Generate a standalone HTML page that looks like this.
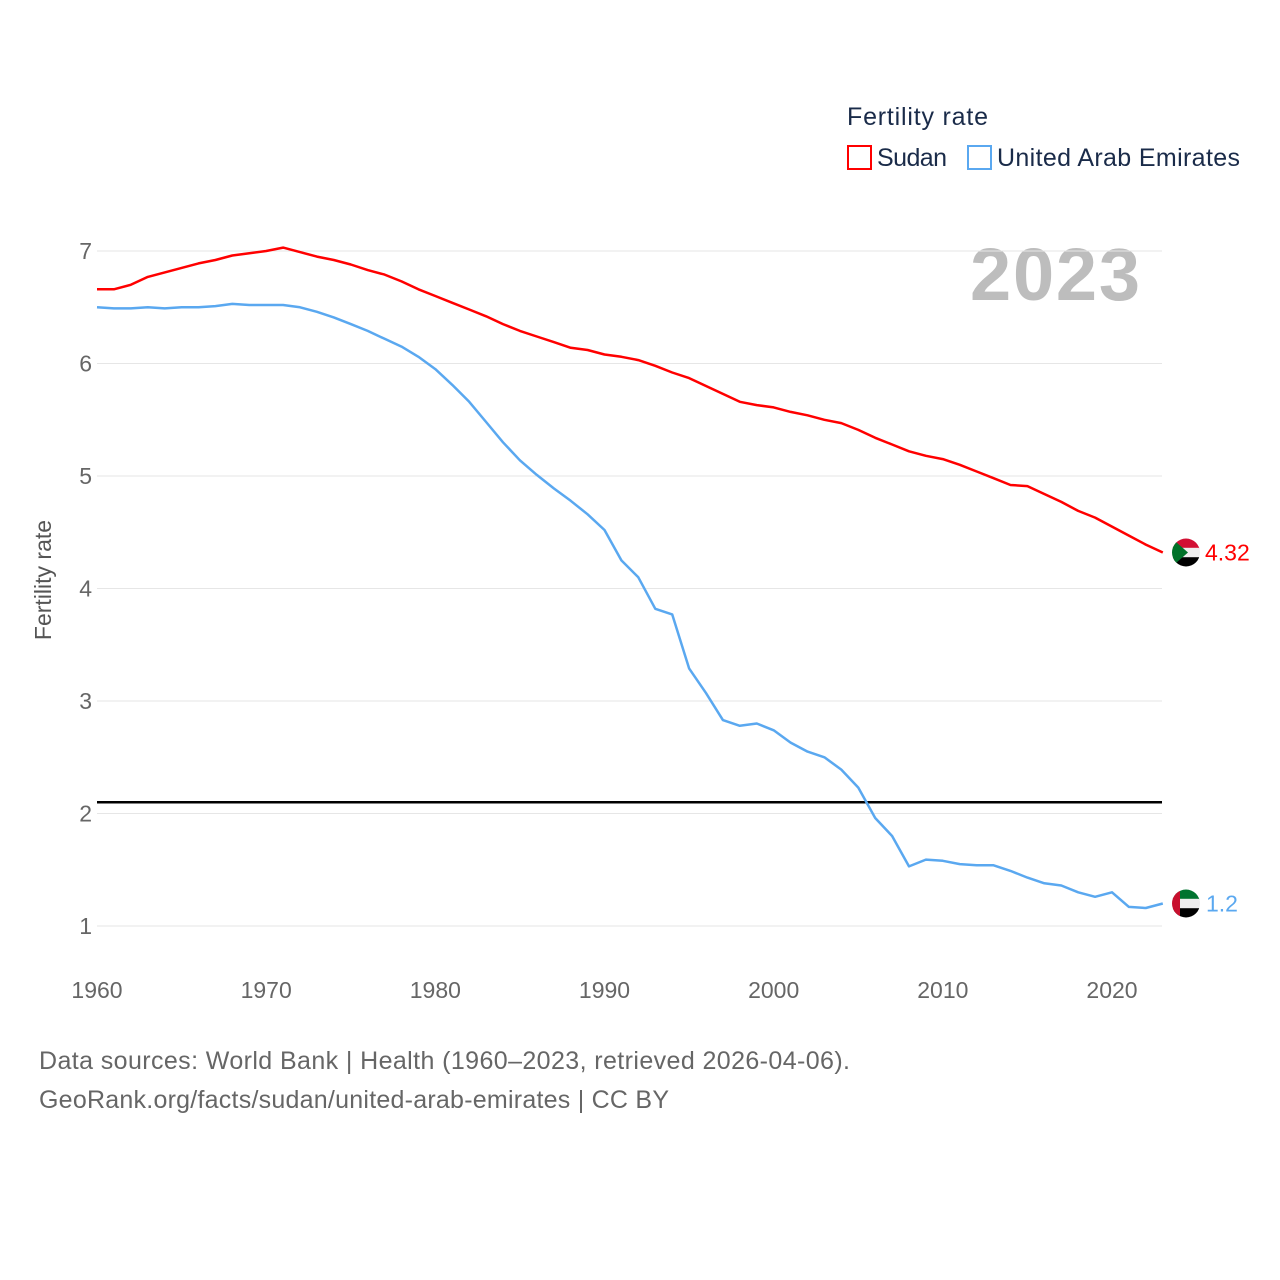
<!DOCTYPE html>
<html><head><meta charset="utf-8">
<style>
html,body{margin:0;padding:0;background:#fff;}
body{width:1280px;height:1280px;position:relative;font-family:"Liberation Sans",sans-serif;}
svg{position:absolute;left:0;top:0;}
</style></head>
<body>
<svg id="chart" width="1280" height="1280">
  <text x="847" y="125" font-size="25" fill="#1a2b49" textLength="141">Fertility rate</text>
  <g>
    <rect x="848" y="146" width="23" height="23" fill="none" stroke="#f00" stroke-width="2"/>
    <text x="877" y="166" font-size="25" fill="#1a2b49" textLength="70">Sudan</text>
  </g>
  <g>
    <rect x="968" y="146" width="23" height="23" fill="none" stroke="#5aa8f0" stroke-width="2"/>
    <text x="997" y="166" font-size="25" fill="#1a2b49" textLength="243">United Arab Emirates</text>
  </g>
  <text x="1140" y="300" font-size="74" font-weight="bold" fill="#bdbdbd" text-anchor="end" textLength="170">2023</text>
  <text transform="translate(51,580) rotate(-90)" font-size="23" fill="#555" text-anchor="middle">Fertility rate</text>
  <g id="grid"></g>
  <g id="xt"></g>
  <g id="lines"></g>
  <text x="39" y="1069" font-size="25" fill="#666" textLength="811">Data sources: World Bank | Health (1960–2023, retrieved 2026-04-06).</text>
  <text x="39" y="1108" font-size="25" fill="#666" textLength="630">GeoRank.org/facts/sudan/united-arab-emirates | CC BY</text>
</svg>
<script>
const years = [];
for (let y = 1960; y <= 2023; y++) years.push(y);
const sudan = [6.66,6.66,6.70,6.77,6.81,6.85,6.89,6.92,6.96,6.98,7.00,7.03,6.99,6.95,6.92,6.88,6.83,6.79,6.73,6.66,6.60,6.54,6.48,6.42,6.35,6.29,6.24,6.19,6.14,6.12,6.08,6.06,6.03,5.98,5.92,5.87,5.80,5.73,5.66,5.63,5.61,5.57,5.54,5.50,5.47,5.41,5.34,5.28,5.22,5.18,5.15,5.10,5.04,4.98,4.92,4.91,4.84,4.77,4.69,4.63,4.55,4.47,4.39,4.32];
const uae = [6.50,6.49,6.49,6.50,6.49,6.50,6.50,6.51,6.53,6.52,6.52,6.52,6.50,6.46,6.41,6.35,6.29,6.22,6.15,6.06,5.95,5.81,5.66,5.48,5.30,5.14,5.01,4.89,4.78,4.66,4.52,4.25,4.10,3.82,3.77,3.29,3.07,2.83,2.78,2.80,2.74,2.63,2.55,2.50,2.39,2.23,1.96,1.80,1.53,1.59,1.58,1.55,1.54,1.54,1.49,1.43,1.38,1.36,1.30,1.26,1.30,1.17,1.16,1.20];
const yTicks = [1,2,3,4,5,6,7];
const xTicks = [1960,1970,1980,1990,2000,2010,2020];
const replacement = 2.1;
const NS = "http://www.w3.org/2000/svg";
const X = v => 97 + (v - 1960) * (1015 / 60);
const Y = v => 926 - (v - 1) * 112.5;
function mk(tag, attrs, parent){const e=document.createElementNS(NS,tag);for(const k in attrs)e.setAttribute(k,attrs[k]);parent.appendChild(e);return e;}
const grid=document.getElementById('grid'), xt=document.getElementById('xt'), lines=document.getElementById('lines');
yTicks.forEach(t=>{
  const l=mk('line',{x1:97,x2:1162,y1:Y(t),y2:Y(t),stroke:'#e6e6e6','stroke-width':1},grid);
  
  
  const tx=mk('text',{x:92,y:Y(t)+8,'font-size':23,fill:'#666','text-anchor':'end'},grid);
  tx.textContent=t;
  
  
});
xTicks.forEach(t=>{
  const tx=mk('text',{x:X(t),y:998,'font-size':23,fill:'#666','text-anchor':'middle'},xt);
  tx.textContent=t;
  
  
});
const rl=mk('line',{x1:97,x2:1162,y1:Y(replacement),y2:Y(replacement),stroke:'#000','stroke-width':2.5},lines);


function series(vals,color,name){
  const d=vals.map((v,i)=>(i?'L':'M')+X(years[i]).toFixed(1)+','+Y(v).toFixed(1)).join(' ');
  const p=mk('path',{d:d,fill:'none',stroke:color,'stroke-width':2.5,'stroke-linejoin':'round'},lines);
  
  
  return Y(vals[vals.length-1]);
}
const ys=series(sudan,'#f00','sudan');
const yu=series(uae,'#5aa8f0','uae');
// Sudan flag
const fs=mk('g',{},lines);


const cp1=mk('clipPath',{id:'c1'},fs);
mk('circle',{cx:1186,cy:ys,r:14},cp1);
const g1=mk('g',{'clip-path':'url(#c1)'},fs);
mk('rect',{x:1170,y:ys-14,width:32,height:10,fill:'#d21034'},g1);
mk('rect',{x:1170,y:ys-4.7,width:32,height:9.4,fill:'#eee'},g1);
mk('rect',{x:1170,y:ys+4.7,width:32,height:10,fill:'#000'},g1);
mk('path',{d:`M1172,${ys-14} L1188,${ys} L1172,${ys+14} Z`,fill:'#007229'},g1);
const s1=mk('text',{x:1205,y:ys+8,'font-size':23,fill:'#f00'},lines);
s1.textContent=sudan[sudan.length-1].toFixed(2);


// UAE flag
const fu=mk('g',{},lines);


const cp2=mk('clipPath',{id:'c2'},fu);
mk('circle',{cx:1186,cy:yu,r:14},cp2);
const g2=mk('g',{'clip-path':'url(#c2)'},fu);
mk('rect',{x:1170,y:yu-14,width:32,height:10,fill:'#00732f'},g2);
mk('rect',{x:1170,y:yu-4.7,width:32,height:9.4,fill:'#eee'},g2);
mk('rect',{x:1170,y:yu+4.7,width:32,height:10,fill:'#000'},g2);
mk('rect',{x:1170,y:yu-14,width:10,height:28,fill:'#c8102e'},g2);
const s2=mk('text',{x:1206,y:yu+8,'font-size':23,fill:'#5aa8f0'},lines);
s2.textContent=String(uae[uae.length-1]);


</script>
</body></html>
